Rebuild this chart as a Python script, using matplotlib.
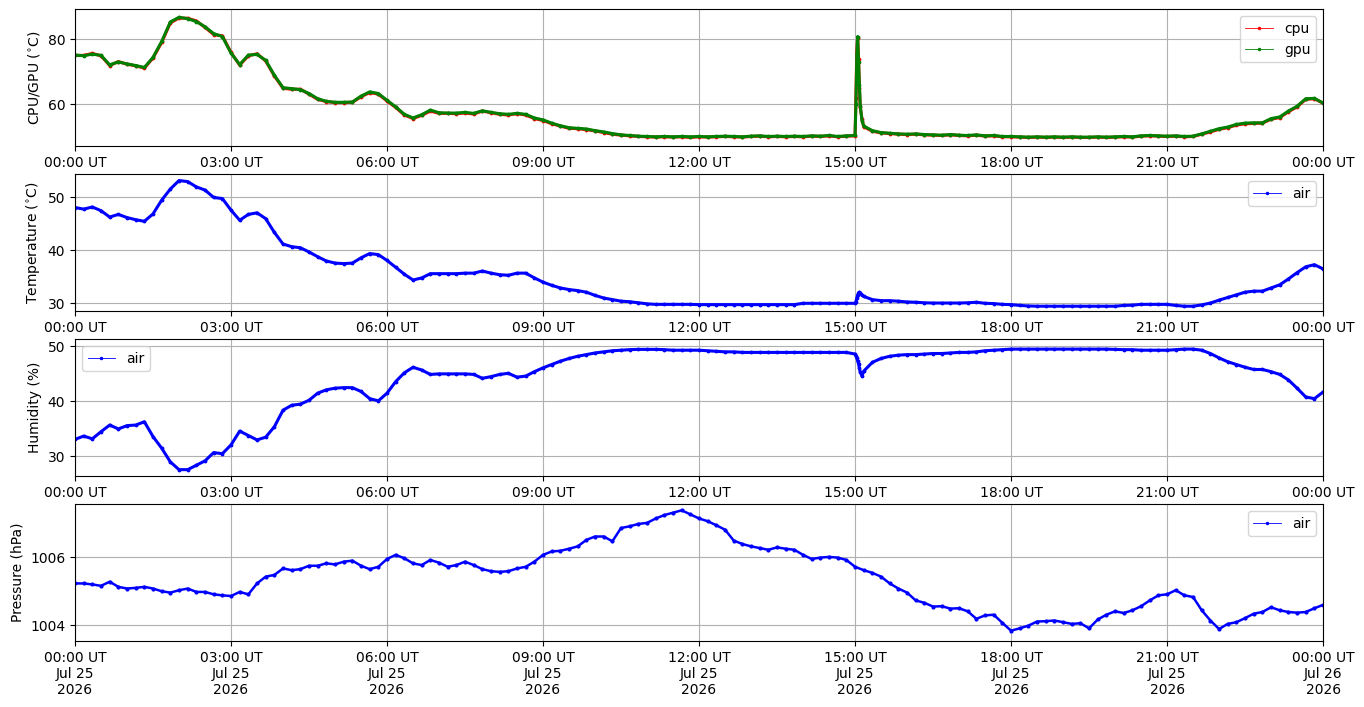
import matplotlib
matplotlib.use('Agg')
import matplotlib.pyplot as plt
import matplotlib.dates as mdates
from matplotlib.lines import Line2D
from matplotlib.ticker import MultipleLocator, ScalarFormatter
import pandas as pd

# ---- sampling times (10-minute readings + extra readings around the 15:00 event)
day_start = '2026-07-25 00:00'
day_end = '2026-07-26 00:00'
spike_clock = ['15:01', '15:02', '15:03', '15:04', '15:05', '15:06', '15:08']

# ---- CPU / GPU temperature (deg C), one row per hour (6 x 10 min), last value = 24:00
cpu = [
    75.0, 75.0, 75.6, 74.9, 71.9, 73.1,
    72.3, 71.8, 71.1, 74.2, 79.0, 85.0,
    86.5, 86.4, 85.6, 83.6, 81.4, 81.0,
    75.9, 72.0, 74.9, 75.5, 73.3, 68.7,
    64.9, 64.6, 64.6, 63.1, 61.5, 60.8,
    60.5, 60.5, 60.6, 62.3, 63.6, 63.1,
    61.0, 59.0, 56.7, 55.6, 56.6, 57.9,
    57.2, 57.2, 57.1, 57.3, 57.0, 57.9,
    57.4, 56.9, 56.7, 57.1, 56.7, 55.6,
    55.0, 54.0, 53.3, 52.6, 52.5, 52.2,
    51.8, 51.3, 50.8, 50.5, 50.3, 50.1,
    50.0, 49.9, 50.0, 49.9, 50.0, 49.8,
    50.0, 49.9, 50.0, 50.1, 50.0, 49.9,
    50.1, 50.2, 50.0, 50.1, 50.0, 50.1,
    50.0, 50.2, 50.1, 50.3, 50.0, 50.2,
    50.3, 53.1, 51.7, 51.2, 51.0, 50.8,
    50.7, 50.8, 50.6, 50.5, 50.4, 50.6,
    50.4, 50.3, 50.5, 50.2, 50.3, 50.0,
    50.0, 49.9, 49.8, 49.9, 49.8, 49.9,
    49.8, 49.9, 49.8, 49.8, 49.9, 49.8,
    49.9, 50.0, 49.9, 50.2, 50.3, 50.2,
    50.1, 50.2, 50.0, 50.1, 50.8, 51.5,
    52.3, 52.8, 53.6, 54.0, 54.1, 54.2,
    55.4, 55.9, 57.7, 59.2, 61.5, 61.7,
    60.3,
]
gpu = [
    75.1, 74.9, 75.4, 75.0, 72.1, 73.0,
    72.4, 71.9, 71.3, 74.4, 79.3, 85.3,
    86.7, 86.3, 85.4, 83.8, 81.7, 80.8,
    75.7, 72.2, 75.1, 75.3, 73.5, 68.9,
    65.1, 64.8, 64.5, 63.3, 61.7, 60.9,
    60.6, 60.6, 60.7, 62.5, 63.8, 63.3,
    61.2, 59.2, 56.9, 55.8, 56.8, 58.2,
    57.4, 57.3, 57.3, 57.5, 57.2, 58.0,
    57.5, 57.1, 56.9, 57.2, 56.9, 55.8,
    55.2, 54.2, 53.4, 52.8, 52.6, 52.4,
    51.9, 51.5, 51.0, 50.6, 50.4, 50.2,
    50.1, 50.0, 50.1, 50.0, 50.1, 50.0,
    50.1, 50.0, 50.1, 50.2, 50.1, 50.0,
    50.2, 50.3, 50.1, 50.2, 50.1, 50.2,
    50.1, 50.3, 50.2, 50.4, 50.1, 50.3,
    50.4, 53.3, 51.9, 51.3, 51.1, 50.9,
    50.8, 50.9, 50.7, 50.6, 50.5, 50.7,
    50.5, 50.4, 50.6, 50.3, 50.4, 50.1,
    50.1, 50.0, 49.9, 50.0, 49.9, 50.0,
    49.9, 50.0, 49.9, 49.9, 50.0, 49.9,
    50.0, 50.1, 50.0, 50.3, 50.4, 50.3,
    50.2, 50.3, 50.1, 50.2, 50.9, 51.7,
    52.5, 53.0, 53.8, 54.2, 54.3, 54.3,
    55.6, 56.1, 57.9, 59.4, 61.7, 61.8,
    60.4,
]
cpu_spike = [62.0, 76.0, 80.5, 74.0, 65.0, 59.0, 55.5]
gpu_spike = [60.0, 75.0, 80.8, 73.0, 66.0, 59.5, 55.0]

# ---- air temperature (deg C)
air_temp = [
    48.1, 47.8, 48.2, 47.5, 46.3, 46.8,
    46.2, 45.8, 45.5, 46.9, 49.5, 51.6,
    53.2, 53.0, 52.0, 51.4, 50.0, 49.8,
    47.6, 45.7, 46.8, 47.1, 46.0, 43.4,
    41.2, 40.7, 40.5, 39.7, 38.8, 38.0,
    37.6, 37.5, 37.6, 38.6, 39.4, 39.2,
    38.1, 36.8, 35.5, 34.4, 34.8, 35.6,
    35.6, 35.6, 35.6, 35.7, 35.7, 36.1,
    35.7, 35.4, 35.3, 35.7, 35.7, 34.8,
    34.0, 33.4, 32.9, 32.6, 32.4, 32.1,
    31.5, 31.0, 30.7, 30.4, 30.3, 30.1,
    29.9, 29.8, 29.8, 29.8, 29.8, 29.8,
    29.75, 29.75, 29.75, 29.75, 29.75, 29.75,
    29.75, 29.75, 29.75, 29.75, 29.75, 29.75,
    30.0, 30.0, 30.0, 30.0, 30.0, 30.0,
    30.0, 31.3, 30.7, 30.5, 30.5, 30.4,
    30.25, 30.2, 30.1, 30.05, 30.05, 30.05,
    30.05, 30.1, 30.2, 30.0, 29.95, 29.8,
    29.75, 29.6, 29.5, 29.45, 29.45, 29.45,
    29.45, 29.45, 29.45, 29.45, 29.45, 29.45,
    29.45, 29.6, 29.65, 29.8, 29.8, 29.8,
    29.8, 29.6, 29.45, 29.45, 29.7, 30.05,
    30.6, 31.1, 31.6, 32.1, 32.3, 32.3,
    32.9, 33.5, 34.6, 35.8, 36.9, 37.3,
    36.5,
]
temp_spike = [30.3, 31.0, 31.6, 32.0, 32.1, 32.0, 31.6]

# ---- air humidity (%)
air_hum = [
    33.1, 33.7, 33.2, 34.5, 35.7, 35.0,
    35.6, 35.7, 36.3, 33.6, 31.5, 29.0,
    27.6, 27.6, 28.4, 29.2, 30.7, 30.5,
    32.1, 34.6, 33.8, 33.0, 33.5, 35.4,
    38.4, 39.3, 39.5, 40.2, 41.5, 42.1,
    42.4, 42.5, 42.5, 41.8, 40.5, 40.1,
    41.5, 43.6, 45.2, 46.2, 45.7, 44.9,
    45.0, 45.0, 45.0, 45.0, 44.9, 44.2,
    44.5, 44.9, 45.1, 44.4, 44.6, 45.4,
    46.1, 46.7, 47.3, 47.8, 48.2, 48.5,
    48.8, 49.0, 49.2, 49.3, 49.4, 49.45,
    49.45, 49.45, 49.4, 49.3, 49.3, 49.3,
    49.3, 49.2, 49.1, 49.0, 49.0, 48.9,
    48.9, 48.9, 48.9, 48.9, 48.9, 48.9,
    48.9, 48.9, 48.9, 48.9, 48.9, 48.9,
    48.6, 45.5, 47.1, 47.8, 48.2, 48.4,
    48.5, 48.5, 48.6, 48.7, 48.7, 48.8,
    48.9, 48.9, 49.0, 49.2, 49.3, 49.4,
    49.5, 49.5, 49.5, 49.5, 49.5, 49.5,
    49.5, 49.5, 49.5, 49.5, 49.5, 49.5,
    49.45, 49.4, 49.4, 49.3, 49.3, 49.3,
    49.3, 49.4, 49.5, 49.5, 49.3, 48.7,
    47.9, 47.2, 46.7, 46.2, 45.8, 45.8,
    45.4, 44.9, 43.9, 42.4, 40.8, 40.5,
    41.7,
]
hum_spike = [48.3, 47.9, 47.4, 46.8, 46.0, 45.3, 44.6]

# ---- air pressure (hPa)
air_pres = [
    1005.23, 1005.23, 1005.20, 1005.16, 1005.28, 1005.13,
    1005.08, 1005.10, 1005.13, 1005.08, 1005.00, 1004.96,
    1005.03, 1005.08, 1004.98, 1004.98, 1004.91, 1004.88,
    1004.86, 1004.98, 1004.91, 1005.23, 1005.43, 1005.48,
    1005.67, 1005.62, 1005.65, 1005.75, 1005.75, 1005.82,
    1005.79, 1005.87, 1005.90, 1005.75, 1005.65, 1005.72,
    1005.95, 1006.07, 1005.97, 1005.82, 1005.77, 1005.92,
    1005.84, 1005.72, 1005.77, 1005.87, 1005.77, 1005.65,
    1005.59, 1005.57, 1005.59, 1005.67, 1005.72, 1005.87,
    1006.07, 1006.17, 1006.19, 1006.25, 1006.32, 1006.51,
    1006.61, 1006.61, 1006.47, 1006.86, 1006.91, 1006.98,
    1007.01, 1007.14, 1007.24, 1007.31, 1007.38, 1007.26,
    1007.14, 1007.06, 1006.94, 1006.81, 1006.49, 1006.39,
    1006.32, 1006.27, 1006.22, 1006.29, 1006.25, 1006.22,
    1006.07, 1005.95, 1005.99, 1006.01, 1005.99, 1005.92,
    1005.72, 1005.62, 1005.54, 1005.43, 1005.23, 1005.08,
    1004.96, 1004.73, 1004.66, 1004.55, 1004.56, 1004.49,
    1004.50, 1004.41, 1004.19, 1004.29, 1004.31, 1004.07,
    1003.84, 1003.91, 1003.99, 1004.11, 1004.12, 1004.14,
    1004.09, 1004.04, 1004.06, 1003.91, 1004.17, 1004.31,
    1004.41, 1004.36, 1004.44, 1004.56, 1004.73, 1004.88,
    1004.91, 1005.03, 1004.88, 1004.83, 1004.44, 1004.14,
    1003.89, 1004.04, 1004.09, 1004.21, 1004.34, 1004.39,
    1004.53, 1004.44, 1004.39, 1004.37, 1004.39, 1004.50,
    1004.60,
]

ylabels = ['CPU/GPU ($^{\\circ}$C)', 'Temperature ($^{\\circ}$C)',
           'Humidity (%)', 'Pressure (hPa)']
ylims = [(47.1, 89.2), (28.5, 54.4), (26.4, 51.3), (1003.53, 1007.56)]
ysteps = [20, 10, 10, 2]

# ---- build time series
grid_times = pd.date_range(day_start, day_end, freq='10min')
spike_times = pd.to_datetime(['2026-07-25 ' + c for c in spike_clock])


def with_spike(base, extra):
    idx = grid_times.append(spike_times)
    return pd.Series(list(base) + list(extra), index=idx).sort_index()


s_cpu = with_spike(cpu, cpu_spike)
s_gpu = with_spike(gpu, gpu_spike)
s_temp = with_spike(air_temp, temp_spike)
s_hum = with_spike(air_hum, hum_spike)
s_pres = pd.Series(air_pres, index=grid_times)

fig, axes = plt.subplots(4, 1, figsize=(13.64, 7.07), dpi=100)
fig.subplots_adjust(left=0.055, right=0.97, top=0.987, bottom=0.093, hspace=0.204)

style = dict(marker='.', markersize=3.5, linewidth=2.2)


def proxy(color, label):
    return Line2D([], [], color=color, lw=0.6, marker='.', ms=3, label=label)


ax = axes[0]
ax.plot(s_cpu.index, s_cpu.values, color='red', **style)
ax.plot(s_gpu.index, s_gpu.values, color='green', **style)
ax.legend(handles=[proxy('red', 'cpu'), proxy('green', 'gpu')], loc='upper right')

ax = axes[1]
ax.plot(s_temp.index, s_temp.values, color='blue', **style)
ax.legend(handles=[proxy('blue', 'air')], loc='upper right')

ax = axes[2]
ax.plot(s_hum.index, s_hum.values, color='blue', **style)
ax.legend(handles=[proxy('blue', 'air')], loc='upper left')

ax = axes[3]
ax.plot(s_pres.index, s_pres.values, color='blue', marker='.', markersize=4, linewidth=1.8)
ax.yaxis.set_major_formatter(ScalarFormatter(useOffset=False))
ax.legend(handles=[proxy('blue', 'air')], loc='upper right')

x0, x1 = pd.Timestamp(day_start), pd.Timestamp(day_end)
for i, ax in enumerate(axes):
    ax.set_xlim(x0, x1)
    ax.set_ylim(*ylims[i])
    ax.yaxis.set_major_locator(MultipleLocator(ysteps[i]))
    ax.grid(True)
    ax.set_ylabel(ylabels[i])
    ax.xaxis.set_major_locator(mdates.HourLocator(byhour=range(0, 24, 3)))
    if i < 3:
        ax.xaxis.set_major_formatter(mdates.DateFormatter('%H:%M UT'))
    else:
        ax.xaxis.set_major_formatter(mdates.DateFormatter('%H:%M UT\n%b %d\n%Y'))

fig.savefig('out.png', dpi=100)
